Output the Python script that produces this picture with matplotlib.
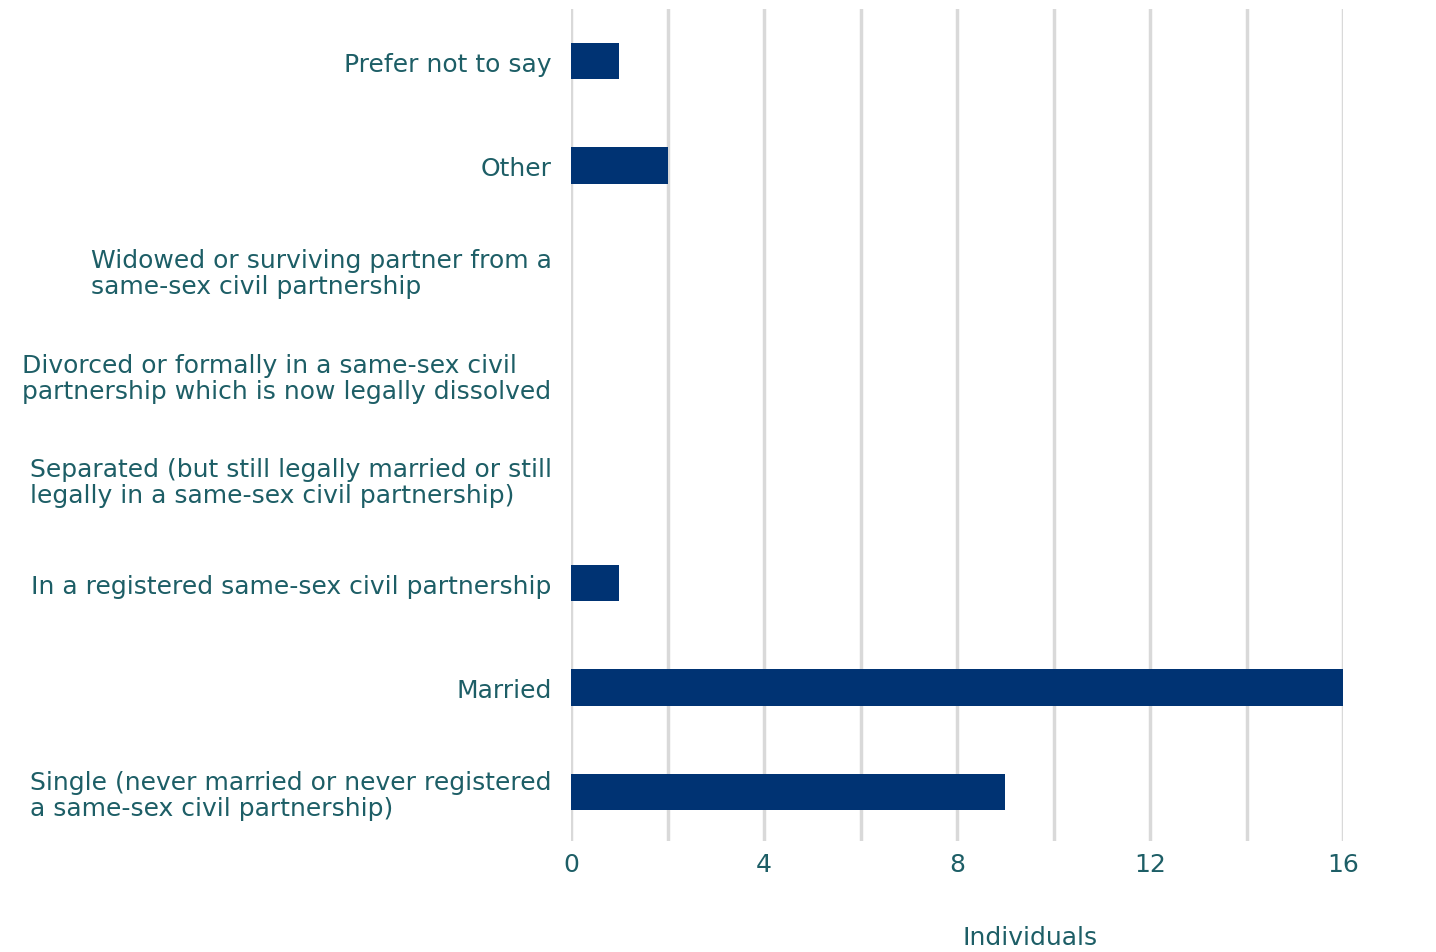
import matplotlib.pyplot as plt

categories = [
    "Single (never married or never registered\na same-sex civil partnership)",
    "Married",
    "In a registered same-sex civil partnership",
    "Separated (but still legally married or still\nlegally in a same-sex civil partnership)",
    "Divorced or formally in a same-sex civil\npartnership which is now legally dissolved",
    "Widowed or surviving partner from a\nsame-sex civil partnership",
    "Other",
    "Prefer not to say",
]
values = [9, 16, 1, 0, 0, 0, 2, 1]
xticks = [0, 4, 8, 12, 16]

text_col = '#1d5e66'
bar_col = '#003373'
grid_col = '#d9d9d9'

fig = plt.figure(figsize=(14.36, 9.53), dpi=100)
ax = fig.add_axes([571/1436, 1 - 842/953, (1343 - 571)/1436, 832/953])

ypos = list(range(len(categories)))
ax.barh(ypos, values, height=0.35, color=bar_col, zorder=3)

ax.set_xlim(0, 16)
ax.set_ylim(-0.47, 7.5)

# gridlines every 2
for gx in range(0, 17, 2):
    ax.axvline(gx, color=grid_col, lw=2.5, zorder=1)

ax.set_xticks(xticks)
ax.set_xticklabels([str(t) for t in xticks], fontsize=18, color=text_col)
ax.set_yticks(ypos)
ax.set_yticklabels(categories, fontsize=18, color=text_col, multialignment='left',
                   linespacing=1.1)
ax.tick_params(axis='both', length=0)
ax.tick_params(axis='y', pad=14)
ax.tick_params(axis='x', pad=8)

for s in ax.spines.values():
    s.set_visible(False)

fig.text(1030/1436, 1 - 938/953, "Individuals", fontsize=18, color=text_col,
         ha='center', va='center')

fig.savefig('out.png', dpi=100)
